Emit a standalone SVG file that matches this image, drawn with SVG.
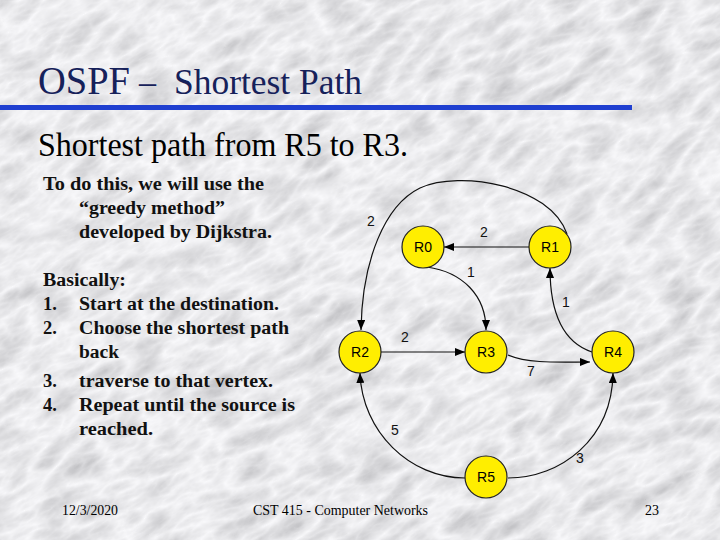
<svg xmlns="http://www.w3.org/2000/svg" width="720" height="540" viewBox="0 0 720 540">
<defs>
<filter id="marble" filterUnits="userSpaceOnUse" x="-400" y="-400" width="1600" height="1400">
<feTurbulence type="turbulence" baseFrequency="0.02 0.045" numOctaves="4" seed="7"/>
<feColorMatrix type="matrix" values="-0.5 0 0 0 0.96  -0.5 0 0 0 0.96  -0.5 0 0 0 0.98  0 0 0 0 1"/>
</filter>
<marker id="arr" viewBox="0 0 10 8" refX="10" refY="4" markerWidth="10" markerHeight="8" markerUnits="userSpaceOnUse" orient="auto">
<path d="M0,0 L10,4 L0,8 Z" fill="#000"/>
</marker>
<style>
.title{font-family:"Liberation Serif",serif;fill:#16215a}
.sub{font-family:"Liberation Serif",serif;font-size:33px;fill:#000}
.body{font-family:"Liberation Serif",serif;font-size:18.5px;font-weight:bold;fill:#111}
.foot{font-family:"Liberation Serif",serif;font-size:14px;fill:#000}
.node circle{fill:#ffee00;stroke:#222;stroke-width:1.2}
.node text{font-family:"Liberation Sans",sans-serif;font-size:14px;fill:#000;text-anchor:middle}
.edge{fill:none;stroke:#111;stroke-width:1.2;marker-end:url(#arr)}
.lbl{font-family:"Liberation Sans",sans-serif;font-size:14px;fill:#111;text-anchor:middle}
</style>
</defs>
<rect width="720" height="540" fill="#e2e2e4"/>
<rect x="-300" y="-300" width="1320" height="1140" filter="url(#marble)" transform="rotate(-30 360 270)"/>

<g id="title">
<text class="title" x="38" y="94" font-size="39" textLength="92" lengthAdjust="spacingAndGlyphs">OSPF</text>
<text class="title" x="139" y="93" font-size="34">–</text>
<text class="title" x="174" y="94" font-size="35" textLength="188" lengthAdjust="spacingAndGlyphs">Shortest Path</text>
<rect x="0" y="105" width="632" height="5" fill="#1f3fd0"/>
</g>

<text class="sub" x="38" y="156" textLength="370" lengthAdjust="spacingAndGlyphs">Shortest path from R5 to R3.</text>

<g id="bodytext">
<text class="body" x="43" y="190" textLength="221" lengthAdjust="spacingAndGlyphs">To do this, we will use the</text>
<text class="body" x="79" y="214" textLength="146" lengthAdjust="spacingAndGlyphs">“greedy method”</text>
<text class="body" x="79" y="238" textLength="193" lengthAdjust="spacingAndGlyphs">developed by Dijkstra.</text>
<text class="body" x="43" y="286" textLength="83" lengthAdjust="spacingAndGlyphs">Basically:</text>
<text class="body" x="43" y="310">1.</text>
<text class="body" x="79" y="310" textLength="200" lengthAdjust="spacingAndGlyphs">Start at the destination.</text>
<text class="body" x="43" y="334">2.</text>
<text class="body" x="79" y="334" textLength="210" lengthAdjust="spacingAndGlyphs">Choose the shortest path</text>
<text class="body" x="79" y="358" textLength="40" lengthAdjust="spacingAndGlyphs">back</text>
<text class="body" x="43" y="387">3.</text>
<text class="body" x="79" y="387" textLength="194" lengthAdjust="spacingAndGlyphs">traverse to that vertex.</text>
<text class="body" x="43" y="411">4.</text>
<text class="body" x="79" y="411" textLength="216" lengthAdjust="spacingAndGlyphs">Repeat until the source is</text>
<text class="body" x="79" y="435" textLength="74" lengthAdjust="spacingAndGlyphs">reached.</text>
</g>

<g id="connectors">
<path class="edge" d="M529,247 L444,247"/>
<path class="edge" d="M567,234 C550,185 460,170 420,188 C385,205 362,260 361,330"/>
<path class="edge" d="M427,267 C462,272 486,295 486,330"/>
<path class="edge" d="M592,352 C562,342 550,310 550,268"/>
<path class="edge" d="M381,352 L465,352"/>
<path class="edge" d="M508,355 C530,364 560,362 590,362"/>
<path class="edge" d="M465,478 C410,478 362,432 360,373"/>
<path class="edge" d="M508,478 C560,478 612,440 613,373"/>
<text class="lbl" x="484" y="237">2</text>
<text class="lbl" x="371" y="226">2</text>
<text class="lbl" x="471" y="277">1</text>
<text class="lbl" x="566" y="307">1</text>
<text class="lbl" x="405" y="342">2</text>
<text class="lbl" x="531" y="376">7</text>
<text class="lbl" x="395" y="435">5</text>
<text class="lbl" x="580" y="463">3</text>
</g>

<g id="R0" class="node"><circle cx="423" cy="247" r="21"/><text x="423" y="252">R0</text></g>
<g id="R1" class="node"><circle cx="550" cy="247" r="21"/><text x="550" y="252">R1</text></g>
<g id="R2" class="node"><circle cx="360" cy="352" r="21"/><text x="360" y="357">R2</text></g>
<g id="R3" class="node"><circle cx="486" cy="352" r="21"/><text x="486" y="357">R3</text></g>
<g id="R4" class="node"><circle cx="613" cy="352" r="21"/><text x="613" y="357">R4</text></g>
<g id="R5" class="node"><circle cx="486" cy="477" r="21"/><text x="486" y="482">R5</text></g>

<g id="footer">
<text class="foot" x="62" y="515" textLength="56" lengthAdjust="spacingAndGlyphs">12/3/2020</text>
<text class="foot" x="253" y="515" textLength="175" lengthAdjust="spacingAndGlyphs">CST 415 - Computer Networks</text>
<text class="foot" x="645" y="515" textLength="14" lengthAdjust="spacingAndGlyphs">23</text>
</g>
</svg>
